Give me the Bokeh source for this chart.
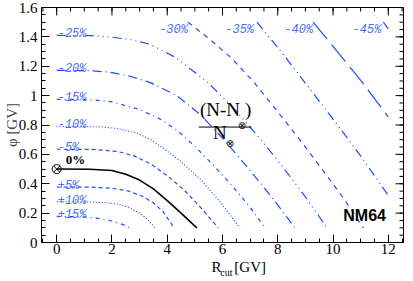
import numpy as np
from bokeh.plotting import figure
from bokeh.layouts import column
from bokeh.models import Range1d, FixedTicker, Label
from bokeh.embed import file_html
from bokeh.resources import INLINE

# ---- contour lines of (N - N0)/N ----
x_p15 = [0, 0.8, 1.4, 1.8, 2.2, 2.45, 2.65]
y_p15 = [0.178, 0.176, 0.168, 0.155, 0.135, 0.118, 0.10]

x_p10 = [0, 1.0, 1.7, 2.2, 2.6, 3.0, 3.3, 3.55]
y_p10 = [0.278, 0.277, 0.272, 0.262, 0.24, 0.20, 0.155, 0.10]

x_p05 = [0, 1.2, 2.0, 2.6, 3.1, 3.5, 3.85, 4.25]
y_p05 = [0.378, 0.377, 0.37, 0.35, 0.315, 0.27, 0.21, 0.10]

x_000 = [0, 1.2, 2.0, 2.5, 3.0, 3.5, 4.0, 4.5, 5.07]
y_000 = [0.50, 0.499, 0.49, 0.465, 0.425, 0.365, 0.285, 0.20, 0.10]

x_m05 = [0, 1.3, 2.2, 2.8, 3.4, 4.0, 4.6, 5.2, 5.85]
y_m05 = [0.635, 0.634, 0.62, 0.59, 0.535, 0.455, 0.36, 0.24, 0.10]

x_m10 = [0, 1.5, 2.2, 2.9, 3.4, 3.84, 4.5, 5.2, 5.9, 6.63]
y_m10 = [0.79, 0.788, 0.776, 0.745, 0.70, 0.645, 0.55, 0.43, 0.28, 0.10]

x_m15 = [0, 1.2, 2.0, 3.0, 3.7, 4.35, 5.0, 5.7, 6.4, 7.0, 7.54]
y_m15 = [0.975, 0.973, 0.958, 0.905, 0.845, 0.765, 0.655, 0.52, 0.375, 0.24, 0.10]

x_m20 = [0, 1.2, 1.9, 2.6, 3.37, 4.35, 5.2, 6.0, 6.8, 7.5, 8.1, 8.62]
y_m20 = [1.172, 1.17, 1.16, 1.135, 1.09, 1.0, 0.87, 0.71, 0.535, 0.375, 0.23, 0.10]

x_m25 = [0, 1.3, 2.0, 2.7, 3.37, 4.3, 5.47, 6.4, 7.3, 8.2, 9.0, 9.78]
y_m25 = [1.41, 1.408, 1.398, 1.38, 1.35, 1.26, 1.09, 0.915, 0.72, 0.51, 0.31, 0.10]

x_m30 = [4.75, 5.5, 6.3, 7.1, 8.0, 8.9, 9.7, 10.4, 11.1]
y_m30 = [1.5, 1.39, 1.26, 1.10, 0.89, 0.675, 0.475, 0.295, 0.10]

x_m35 = [7.25, 8.16, 9.06, 10.0, 11.0, 12.0]
y_m35 = [1.5, 1.29, 1.07, 0.84, 0.59, 0.32]

x_m40 = [9.28, 10.2, 11.06, 12.0]
y_m40 = [1.5, 1.29, 1.09, 0.855]

x_m45 = [11.82, 12.0]
y_m45 = [1.5, 1.455]

left_labels = ["+15%", "+10%", "+5%", "-5%", "-10%", "-15%", "-20%", "-25%"]
top_labels = ["-30%", "-35%", "-40%", "-45%"]

# reference point N0 (Rcut, phi)
ref_x = [0.0]
ref_y = [0.5]

x_ticks = [0, 2, 4, 6, 8, 10, 12]
x_tick_labels = ["0", "2", "4", "6", "8", "10", "12"]
y_ticks = [0, 0.2, 0.4, 0.6, 0.8, 1.0, 1.2, 1.4, 1.6]
y_tick_labels = ["0", "0.2", "0.4", "0.6", "0.8", "1", "1.2", "1.4", "1.6"]

X0, X1 = -0.55, 12.55
Y0, Y1 = 0.0, 1.6
x_minor = np.arange(-0.5, 12.51, 0.5).tolist()
y_minor = np.arange(0, 1.601, 0.05).tolist()

BLUE = "#1f4dff"
LBLUE = "#4a6ef5"
SERIF = "Liberation Serif"

DASHED = "4 3"
DOTTED = "1 2"
DASHDOT = "4 4 1 4"
DASHDOT5 = "9 4 1 4"
DASHDOT6 = "9 4 1 4 1 4 1 4"
DASH7 = "5 5"
DASHDOT8 = "9 4 1 4 1 4"
LONG = "22 7"

curves = [
    (x_p15, y_p15, DASHDOT),
    (x_p10, y_p10, DOTTED),
    (x_p05, y_p05, DASHED),
    (x_m05, y_m05, DASHED),
    (x_m10, y_m10, DOTTED),
    (x_m15, y_m15, DASHDOT),
    (x_m20, y_m20, DASHDOT5),
    (x_m25, y_m25, DASHDOT6),
    (x_m30, y_m30, DASH7),
    (x_m35, y_m35, DASHDOT8),
    (x_m40, y_m40, LONG),
    (x_m45, y_m45, LONG),
]

W = 413
p = figure(width=W, height=260,
           x_range=Range1d(X0, X1), y_range=Range1d(Y0, Y1),
           output_backend="svg", toolbar_location=None,
           min_border_left=0, min_border_right=10, min_border_top=7,
           min_border_bottom=18)
p.grid.visible = False
p.outline_line_color = "black"
p.background_fill_color = "white"
p.border_fill_color = "white"

xt = FixedTicker(ticks=x_ticks, minor_ticks=x_minor)
yt = FixedTicker(ticks=y_ticks, minor_ticks=y_minor)


def style_axis(ax, ticker, labels):
    ax.ticker = ticker
    ax.major_tick_in = 8
    ax.major_tick_out = 0
    ax.minor_tick_in = 4
    ax.minor_tick_out = 0
    ax.axis_line_color = "black"
    ax.major_tick_line_color = "black"
    ax.minor_tick_line_color = "black"
    ax.major_label_overrides = dict(zip(ticker.ticks, labels))
    ax.major_label_text_font = SERIF
    ax.major_label_text_font_size = "15px"
    ax.major_label_text_color = "black"
    ax.major_label_standoff = 4


style_axis(p.xaxis[0], xt, x_tick_labels)
style_axis(p.yaxis[0], yt, y_tick_labels)
p.xaxis[0].major_label_standoff = 1
p.yaxis[0].axis_label = "\u03c6 [GV]"
p.yaxis[0].axis_label_text_font = SERIF
p.yaxis[0].axis_label_text_font_size = "15px"
p.yaxis[0].axis_label_text_font_style = "normal"
p.yaxis[0].axis_label_standoff = -4

# mirrored inward ticks on the top and right frame edges (half of each
# dash marker is clipped by the frame, leaving an inward tick)
p.scatter(x_ticks, [Y1] * len(x_ticks), marker="dash", angle=np.pi / 2, size=16,
          line_color="black", line_width=1)
p.scatter(x_minor, [Y1] * len(x_minor), marker="dash", angle=np.pi / 2, size=8,
          line_color="black", line_width=1)
p.scatter([X1] * len(y_ticks), y_ticks, marker="dash", size=16,
          line_color="black", line_width=1)
p.scatter([X1] * len(y_minor), y_minor, marker="dash", size=8,
          line_color="black", line_width=1)

for xs, ys, dash in curves:
    p.line(xs, ys, line_color=BLUE, line_width=1.2, line_dash=dash)
p.line(x_000, y_000, line_color="black", line_width=1.6)

p.scatter(ref_x, ref_y, marker="circle_x", size=9, fill_color=None,
          line_color="black", line_width=1)

left_y0 = [y_p15[0], y_p10[0], y_p05[0], y_m05[0], y_m10[0], y_m15[0], y_m20[0], y_m25[0]]
for txt, y0 in zip(left_labels, left_y0):
    p.add_layout(Label(x=0, y=y0, x_offset=1, y_offset=1, text=txt,
                       text_font="Liberation Mono", text_font_style="italic",
                       text_font_size="12px", text_color=LBLUE,
                       text_baseline="alphabetic", text_align="left"))

top_x0 = [x_m30[0], x_m35[0], x_m40[0], x_m45[0]]
top_dx = [0, -3, 0, -2]
for txt, x0, dx in zip(top_labels, top_x0, top_dx):
    p.add_layout(Label(x=x0, y=1.5, x_offset=dx, y_offset=-1, text=txt,
                       text_font="Liberation Mono", text_font_style="italic",
                       text_font_size="12px", text_color=LBLUE,
                       text_baseline="top", text_align="right"))

p.add_layout(Label(x=ref_x[0], y=ref_y[0], x_offset=9, y_offset=2, text="0%",
                   text_font=SERIF, text_font_style="bold",
                   text_font_size="13px", text_color="black"))

p.add_layout(Label(x=10.37, y=0.128, text="NM64", text_font="Liberation Sans",
                   text_font_style="bold", text_font_size="16px", text_color="black"))

# fraction annotation (N - N0)/N0, anchored at the fraction bar centre
fx, fy = 6.09, 0.786
p.add_layout(Label(x=fx, y=fy, x_offset=-25, y_offset=7, text="(N-N",
                   text_font=SERIF, text_font_size="19px", text_color="black"))
p.add_layout(Label(x=fx, y=fy, x_offset=17, y_offset=2, text="\u2297",
                   text_font="DejaVu Sans", text_font_size="10px", text_color="black",
                   text_align="center", text_baseline="middle"))
p.add_layout(Label(x=fx, y=fy, x_offset=20, y_offset=7, text=")",
                   text_font=SERIF, text_font_size="19px", text_color="black"))
p.segment(x0=[fx - 0.95], y0=[fy], x1=[fx + 0.95], y1=[fy], line_color="black",
          line_width=1)
p.add_layout(Label(x=fx, y=fy, x_offset=-12, y_offset=-16, text="N",
                   text_font=SERIF, text_font_size="19px", text_color="black"))
p.add_layout(Label(x=fx, y=fy, x_offset=5, y_offset=-16, text="\u2297",
                   text_font="DejaVu Sans", text_font_size="10px", text_color="black",
                   text_align="center", text_baseline="middle"))

# strip below the plot carrying the x axis title  R_cut [GV]
TH = 21
t = figure(width=W, height=TH, x_range=Range1d(0, W), y_range=Range1d(0, TH),
           output_backend="svg", toolbar_location=None,
           x_axis_type=None, y_axis_type=None, min_border=0)
t.outline_line_color = None
t.grid.visible = False
t.add_layout(Label(x=194, y=7, text="R", text_font=SERIF, text_font_size="15px",
                   text_color="black"))
t.add_layout(Label(x=204, y=3.5, text="cut", text_font=SERIF, text_font_size="10px",
                   text_color="black"))
t.add_layout(Label(x=220, y=7, text="[GV]", text_font=SERIF, text_font_size="15px",
                   text_color="black"))

open("out.html", "w").write(file_html(column(p, t, spacing=0), INLINE))
